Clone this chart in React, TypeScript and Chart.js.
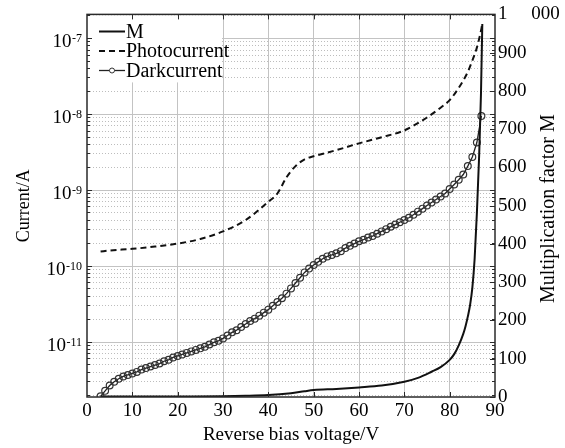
import { useEffect, useRef } from 'react';
import { Chart, registerables } from 'chart.js';

Chart.register(...registerables);

const SERIF = '"Liberation Serif", "Times New Roman", Times, serif';

// Multiplication factor M (right axis)
const mVoltage = [3, 10, 20, 30, 35, 40, 45, 48, 50, 55, 60, 65, 70, 73, 76, 78, 80, 81, 82, 83, 83.5, 84, 84.5, 85, 85.5, 86, 86.5, 86.9, 87.2];
const mFactor = [1, 1, 1.5, 2, 3, 5, 10, 15, 18, 21, 25, 30, 40, 50, 66, 78, 97, 112, 135, 165, 185, 210, 240, 285, 360, 480, 630, 790, 975];

// Photocurrent, A
const photoVoltage = [3, 5, 10, 15, 20, 25, 30, 35, 40, 42, 44, 46, 48, 50, 55, 60, 65, 70, 75, 78, 80, 82, 84, 85, 86, 87, 87.2];
const photoCurrent = [
  1.53e-10, 1.58e-10, 1.66e-10, 1.78e-10, 1.95e-10, 2.24e-10, 2.82e-10, 3.98e-10, 6.92e-10, 8.9e-10,
  1.45e-9, 2.04e-9, 2.51e-9, 2.75e-9, 3.31e-9, 4.07e-9, 4.9e-9, 6.03e-9, 8.91e-9, 1.2e-8,
  1.51e-8, 2.19e-8, 3.55e-8, 5.01e-8, 7.41e-8, 1.32e-7, 1.55e-7,
];

// Dark current, A, one reading per volt
const darkVoltage = [
  3, 4, 5, 6, 7, 8, 9, 10, 11, 12, 13, 14, 15, 16, 17, 18, 19, 20, 21, 22, 23, 24, 25, 26, 27, 28, 29, 30,
  31, 32, 33, 34, 35, 36, 37, 38, 39, 40, 41, 42, 43, 44, 45, 46, 47, 48, 49, 50, 51, 52, 53, 54, 55, 56, 57, 58,
  59, 60, 61, 62, 63, 64, 65, 66, 67, 68, 69, 70, 71, 72, 73, 74, 75, 76, 77, 78, 79, 80, 81, 82, 83, 84, 85, 86, 87,
];
const darkCurrent = [
  1.9e-12, 2.24e-12, 2.63e-12, 2.95e-12, 3.24e-12, 3.47e-12, 3.63e-12, 3.8e-12, 3.98e-12, 4.27e-12,
  4.47e-12, 4.68e-12, 4.9e-12, 5.13e-12, 5.5e-12, 5.75e-12, 6.17e-12, 6.46e-12, 6.76e-12, 7.08e-12,
  7.41e-12, 7.76e-12, 8.13e-12, 8.51e-12, 9.12e-12, 9.77e-12, 1.02e-11, 1.1e-11, 1.2e-11, 1.32e-11,
  1.41e-11, 1.55e-11, 1.7e-11, 1.86e-11, 2.0e-11, 2.19e-11, 2.4e-11, 2.63e-11, 2.95e-11, 3.31e-11,
  3.72e-11, 4.27e-11, 5.01e-11, 5.89e-11, 6.92e-11, 8.13e-11, 9.12e-11, 1.02e-10, 1.12e-10, 1.23e-10,
  1.32e-10, 1.38e-10, 1.45e-10, 1.55e-10, 1.7e-10, 1.82e-10, 1.95e-10, 2.09e-10, 2.19e-10, 2.34e-10,
  2.45e-10, 2.63e-10, 2.82e-10, 3.02e-10, 3.24e-10, 3.47e-10, 3.72e-10, 3.98e-10, 4.27e-10, 4.68e-10,
  5.13e-10, 5.62e-10, 6.17e-10, 6.76e-10, 7.41e-10, 8.13e-10, 8.91e-10, 1.02e-9, 1.17e-9, 1.35e-9,
  1.58e-9, 2.04e-9, 2.69e-9, 4.17e-9, 9.33e-9,
];

const seriesLabels = ['M', 'Photocurrent', 'Darkcurrent'];

// Axis ranges and tick labels
const voltageMin = 0;
const voltageMax = 90;
const voltageStep = 10;
const currentMin = 1.86e-12;
const currentMax = 2.03e-7;
const currentDecades = [-12, -11, -10, -9, -8, -7];
const labelledDecades = [-11, -10, -9, -8, -7];
const mMin = 0;
const mMax = 1000;
const mStep = 100;

const GRID = '#c3c3c3';
const FRAME = '#2a2a2a';

const decorations = {
  id: 'decorations',
  beforeDatasetsDraw(chart: any) {
    const { ctx, chartArea: a } = chart;
    const yI = chart.scales.yI;
    ctx.save();
    ctx.lineWidth = 1;
    for (const e of currentDecades) {
      for (let m = 1; m <= 9; m++) {
        const v = m * Math.pow(10, e);
        if (v < currentMin || v > currentMax) continue;
        const y = Math.round(yI.getPixelForValue(v)) + 0.5;
        ctx.strokeStyle = m === 1 ? GRID : '#bdbdbd';
        ctx.setLineDash(m === 1 ? [] : [1, 2]);
        ctx.beginPath();
        ctx.moveTo(a.left, y);
        ctx.lineTo(a.right, y);
        ctx.stroke();
      }
    }
    ctx.restore();
  },
  afterDraw(chart: any) {
    const { ctx, chartArea: a } = chart;
    const x = chart.scales.x;
    const yI = chart.scales.yI;
    const yM = chart.scales.yM;
    const ds = chart.data.datasets;
    ctx.save();

    // legend
    ctx.fillStyle = '#fff';
    ctx.fillRect(a.left + 1, a.top + 1, 134, 67);
    const rows = [37.5, 57, 76.5];
    ctx.font = `20px ${SERIF}`;
    ctx.textAlign = 'left';
    ctx.textBaseline = 'alphabetic';
    ds.forEach((d: any, i: number) => {
      const base = rows[i];
      const ly = base - 6;
      const x0 = a.left + 12;
      const x1 = a.left + 38;
      ctx.strokeStyle = d.borderColor;
      ctx.lineWidth = d.borderWidth;
      ctx.setLineDash(d.borderDash || []);
      ctx.beginPath();
      ctx.moveTo(x0, ly);
      ctx.lineTo(x1, ly);
      ctx.stroke();
      ctx.setLineDash([]);
      if (d.pointRadius > 0) {
        ctx.lineWidth = 1;
        ctx.strokeStyle = d.pointBorderColor;
        ctx.fillStyle = '#fff';
        ctx.beginPath();
        ctx.arc((x0 + x1) / 2, ly, 2.5, 0, Math.PI * 2);
        ctx.fill();
        ctx.stroke();
      }
      ctx.fillStyle = '#000';
      ctx.fillText(d.label, x1 + 1, base);
    });

    // frame
    ctx.setLineDash([]);
    ctx.strokeStyle = FRAME;
    ctx.lineWidth = 1.5;
    ctx.strokeRect(a.left, a.top, a.right - a.left, a.bottom - a.top);

    // inward ticks
    ctx.lineWidth = 1;
    for (let v = voltageMin + voltageStep; v < voltageMax; v += voltageStep) {
      const px = Math.round(x.getPixelForValue(v)) + 0.5;
      ctx.beginPath();
      ctx.moveTo(px, a.bottom);
      ctx.lineTo(px, a.bottom - 5);
      ctx.moveTo(px, a.top);
      ctx.lineTo(px, a.top + 5);
      ctx.stroke();
    }
    for (const e of currentDecades) {
      for (let m = 1; m <= 9; m++) {
        const v = m * Math.pow(10, e);
        if (v < currentMin || v > currentMax) continue;
        const py = Math.round(yI.getPixelForValue(v)) + 0.5;
        const len = m === 1 ? 5 : 3;
        ctx.beginPath();
        ctx.moveTo(a.left, py);
        ctx.lineTo(a.left + len, py);
        ctx.moveTo(a.right, py);
        ctx.lineTo(a.right - len, py);
        ctx.stroke();
      }
    }
    for (let v = mMin; v <= mMax; v += mStep) {
      const py = Math.round(yM.getPixelForValue(v)) + 0.5;
      ctx.beginPath();
      ctx.moveTo(a.right, py);
      ctx.lineTo(a.right - 5, py);
      ctx.stroke();
    }

    // log tick labels with superscript exponents
    ctx.fillStyle = '#000';
    ctx.textAlign = 'right';
    ctx.textBaseline = 'alphabetic';
    for (const e of labelledDecades) {
      const py = yI.getPixelForValue(Math.pow(10, e));
      const exp = String(e);
      ctx.font = `12px ${SERIF}`;
      const w = ctx.measureText(exp).width;
      ctx.fillText(exp, a.left - 5, py + 4.5);
      ctx.font = `19px ${SERIF}`;
      ctx.fillText('10', a.left - 5 - w - 0.5, py + 9.5);
    }

    // right axis title, reading upward
    ctx.save();
    ctx.translate(549, (a.top + a.bottom) / 2 + 3);
    ctx.rotate(-Math.PI / 2);
    ctx.textAlign = 'center';
    ctx.textBaseline = 'middle';
    ctx.font = `20px ${SERIF}`;
    ctx.fillText('Multiplication factor M', 0, 0);
    ctx.restore();

    ctx.restore();
  },
};

export default function App() {
  const ref = useRef<HTMLCanvasElement | null>(null);

  useEffect(() => {
    if (!ref.current) return;
    const font = { family: SERIF, size: 18 };
    const chart = new Chart(ref.current, {
      type: 'line',
      data: {
        datasets: [
          {
            label: seriesLabels[0],
            data: mVoltage.map((v, i) => ({ x: v, y: mFactor[i] })),
            yAxisID: 'yM',
            borderColor: '#111',
            borderWidth: 2,
            pointRadius: 0,
            cubicInterpolationMode: 'monotone',
          },
          {
            label: seriesLabels[1],
            data: photoVoltage.map((v, i) => ({ x: v, y: photoCurrent[i] })),
            yAxisID: 'yI',
            borderColor: '#111',
            borderWidth: 2,
            borderDash: [6, 4],
            pointRadius: 0,
            cubicInterpolationMode: 'monotone',
          },
          {
            label: seriesLabels[2],
            data: darkVoltage.map((v, i) => ({ x: v, y: darkCurrent[i] })),
            yAxisID: 'yI',
            borderColor: '#222',
            borderWidth: 1.3,
            pointRadius: 3.4,
            pointStyle: 'circle',
            pointBorderColor: '#333',
            pointBackgroundColor: 'rgba(255,255,255,0)',
            pointBorderWidth: 1.2,
            tension: 0,
          },
        ],
      },
      options: {
        responsive: false,
        animation: false,
        layout: { padding: { top: 14, left: 0, right: 0, bottom: 0 } },
        plugins: { legend: { display: false }, tooltip: { enabled: false } },
        scales: {
          x: {
            type: 'linear',
            position: 'bottom',
            min: voltageMin,
            max: voltageMax,
            ticks: { stepSize: voltageStep, font: { family: SERIF, size: 19 }, color: '#000', padding: 3 },
            grid: {
              color: GRID,
              drawTicks: false,
              lineWidth: (c: any) => (c.tick && (c.tick.value === voltageMin || c.tick.value === voltageMax) ? 0 : 1),
            },
            border: { display: false },
            title: {
              display: true,
              text: 'Reverse bias voltage/V',
              font: { family: SERIF, size: 19 },
              color: '#000',
              padding: { top: 0, bottom: 2 },
            },
            afterFit: (s: any) => {
              s.height = 51;
            },
          },
          yI: {
            type: 'logarithmic',
            position: 'left',
            min: currentMin,
            max: currentMax,
            ticks: { display: false },
            grid: { display: false },
            border: { display: false },
            title: { display: true, text: 'Current/A', font, color: '#000', padding: { top: 13, bottom: 0 } },
            afterFit: (s: any) => {
              s.width = 87;
            },
          },
          yM: {
            type: 'linear',
            position: 'right',
            min: mMin,
            max: mMax,
            ticks: {
              stepSize: mStep,
              font: { family: SERIF, size: 19 },
              color: '#000',
              padding: 3,
              callback: (v: any) => (v === 1000 ? '1\u2003 000' : String(v)),
            },
            grid: { display: false, drawTicks: false },
            border: { display: false },
            afterFit: (s: any) => {
              s.width = 70;
            },
          },
        },
      } as any,
      plugins: [decorations],
    });
    return () => chart.destroy();
  }, []);

  return (
    <div style={{ position: 'fixed', left: 0, top: 0, width: 565, height: 448, background: '#fff' }}>
      <canvas ref={ref} width={565} height={448} style={{ display: 'block' }} />
    </div>
  );
}
